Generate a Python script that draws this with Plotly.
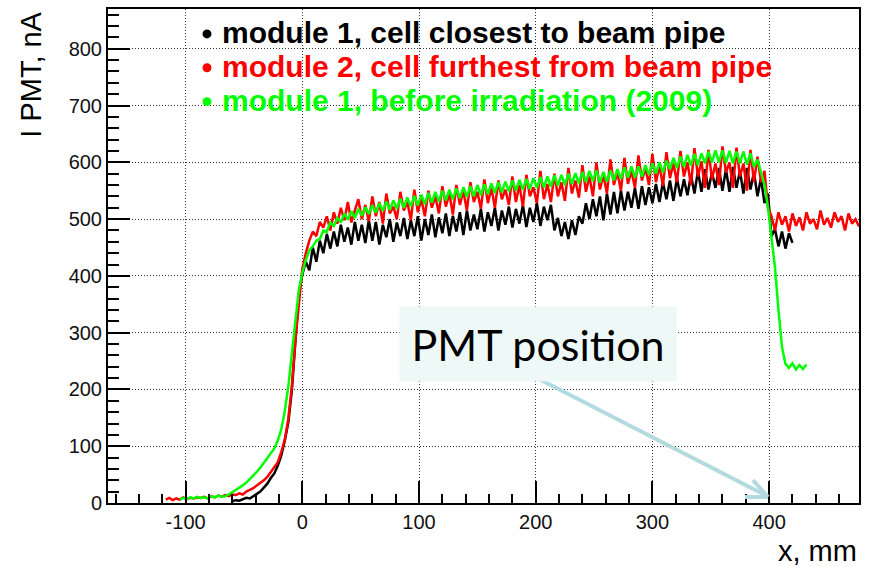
import plotly.graph_objects as go

# ---------------- data ----------------
black_x0, black_dx = -60, 3
black_vals = [
    3, 5, 4, 7, 9, 8, 12, 15, 20, 27,
    34, 44, 52, 66, 84, 110, 142, 198, 288, 368,
    402, 425, 410, 450, 425, 462, 440, 474, 448, 478,
    452, 490, 460, 485, 455, 495, 462, 490, 458, 498,
    462, 495, 455, 490, 468, 500, 460, 494, 470, 502,
    465, 498, 470, 505, 462, 500, 472, 508, 468, 503,
    475, 510, 470, 506, 478, 512, 472, 515, 480, 508,
    482, 518, 478, 512, 488, 520, 480, 515, 490, 522,
    485, 518, 492, 525, 486, 520, 495, 528, 488, 522,
    498, 525, 480, 502, 470, 495, 465, 498, 472, 505,
    492, 528, 500, 535, 505, 540, 498, 545, 508, 548,
    510, 550, 515, 548, 520, 555, 518, 558, 525, 556,
    528, 562, 530, 565, 535, 568, 532, 572, 540, 570,
    542, 578, 545, 585, 548, 588, 552, 582, 555, 590,
    550, 588, 548, 592, 555, 585, 545, 590, 552, 583,
    540, 572, 528, 545, 470, 482, 452, 478, 448, 475,
    458,
]

red_x0, red_dx = -117, 3
red_vals = [
    6, 9, 5, 8, 6, 10, 7, 9, 8, 10,
    9, 11, 8, 12, 10, 13, 11, 14, 12, 15,
    14, 17, 15, 20, 23, 26, 31, 35, 40, 46,
    54, 63, 72, 90, 112, 148, 205, 285, 350, 412,
    440, 462, 478, 470, 495, 485, 505, 480, 512, 492,
    520, 498, 530, 494, 515, 535, 500, 525, 496, 540,
    505, 530, 492, 545, 510, 522, 500, 548, 515, 530,
    498, 552, 512, 535, 505, 550, 520, 540, 510, 558,
    522, 545, 508, 560, 525, 550, 515, 565, 530, 548,
    518, 570, 528, 555, 520, 568, 535, 552, 525, 575,
    530, 560, 522, 578, 540, 556, 528, 585, 535, 562,
    530, 580, 540, 565, 532, 590, 545, 568, 538, 595,
    548, 575, 540, 600, 552, 578, 545, 605, 560, 582,
    550, 608, 562, 585, 555, 612, 568, 590, 560, 615,
    565, 595, 558, 618, 572, 598, 565, 620, 575, 600,
    560, 625, 575, 602, 555, 622, 570, 598, 560, 628,
    582, 600, 555, 626, 575, 598, 550, 622, 565, 610,
    565, 585, 520, 505, 480, 512, 490, 505, 478, 510,
    488, 503, 480, 512, 492, 500, 482, 515, 490, 502,
    485, 512, 495, 505, 480, 510, 492, 500, 487,
]

green_x0, green_dx = -105, 3
green_vals = [
    6, 9, 7, 10, 8, 11, 9, 10, 8, 12,
    10, 13, 11, 12, 15, 19, 22, 27, 31, 36,
    42, 48, 55, 62, 70, 78, 86, 96, 110, 130,
    162, 205, 262, 325, 375, 405, 428, 445, 452, 462,
    465, 480, 478, 494, 488, 502, 494, 510, 499, 514,
    502, 518, 506, 521, 509, 525, 511, 528, 514, 531,
    516, 533, 518, 536, 520, 538, 522, 541, 524, 543,
    526, 546, 529, 548, 531, 550, 533, 552, 535, 554,
    537, 556, 539, 558, 540, 560, 542, 561, 544, 563,
    546, 565, 547, 566, 549, 568, 550, 569, 552, 571,
    553, 572, 555, 574, 556, 575, 557, 577, 559, 578,
    560, 580, 562, 581, 563, 583, 565, 585, 567, 586,
    564, 583, 566, 586, 568, 588, 571, 591, 573, 593,
    573, 593, 575, 595, 578, 598, 580, 600, 582, 603,
    588, 608, 590, 610, 592, 613, 594, 615, 595, 616,
    598, 619, 600, 621, 600, 621, 599, 620, 598, 619,
    598, 619, 596, 616, 592, 605, 582, 560, 520, 470,
    415, 340, 275, 245, 238, 246, 235, 243, 236, 244,
]

legend_labels = [
    "module 1, cell closest to beam pipe",
    "module 2, cell furthest from beam pipe",
    "module 1, before irradiation (2009)",
]
colors = ["#000000", "#ff0000", "#00ff00"]

x_range = [-166.5, 477]
y_range = [0, 870]
x_ticks = [-100, 0, 100, 200, 300, 400]
x_ticktext = ["-100", "0", "100", "200", "300", "400"]
y_ticks = [0, 100, 200, 300, 400, 500, 600, 700, 800]


def xs(x0, dx, vals):
    return [x0 + dx * i for i in range(len(vals))]


# ---------------- figure ----------------
W, H = 871, 567
L, R, T, B = 108, 859, 7, 503


def px(x):
    return (x - L) / (R - L)


def py(y):
    return (B - y) / (B - T)


fig = go.Figure()
series = [
    (black_x0, black_dx, black_vals),
    (red_x0, red_dx, red_vals),
    (green_x0, green_dx, green_vals),
]
widths = [2.5, 2.5, 2.5]
for (x0, dx, vals), c, name, w in zip(series, colors, legend_labels, widths):
    fig.add_trace(go.Scatter(
        x=xs(x0, dx, vals), y=vals, mode="lines", name=name,
        line=dict(color=c, width=w), showlegend=False,
    ))

tickfont = dict(family="Liberation Sans, Arial", size=20, color="#111")
fig.update_xaxes(
    range=x_range, tickvals=x_ticks, ticktext=x_ticktext, ticks="inside",
    ticklen=22, tickwidth=1.5,
    tickcolor="black", showline=True, linecolor="black", linewidth=2, mirror=True,
    showgrid=True, gridcolor="#333", gridwidth=1, griddash="1px,2px",
    zeroline=False, tickfont=tickfont,
    minor=dict(ticks="inside", ticklen=9, dtick=20, tick0=0, tickcolor="black",
               tickwidth=1.5, showgrid=False),
)
fig.update_yaxes(
    range=y_range, tickvals=y_ticks, ticks="inside", ticklen=22, tickwidth=1.5,
    tickcolor="black", showline=True, linecolor="black", linewidth=2, mirror=True,
    showgrid=True, gridcolor="#333", gridwidth=1, griddash="1px,2px",
    zeroline=False, tickfont=tickfont,
    minor=dict(ticks="inside", ticklen=11, dtick=20, tick0=0, tickcolor="black",
               tickwidth=1.5, showgrid=False),
)

annotations = []
shapes = []
# legend
for i, (lab, c) in enumerate(zip(legend_labels, colors)):
    yc = 31 + 34 * i
    annotations.append(dict(
        xref="paper", yref="paper", x=px(220), y=py(yc), xanchor="left",
        yanchor="middle", text="<b>" + lab + "</b>", showarrow=False,
        font=dict(family="Liberation Sans, Arial", size=30, color=c),
    ))
    shapes.append(dict(
        type="circle", xref="paper", yref="paper",
        x0=px(202.5), x1=px(211.5), y0=py(yc + 5.5), y1=py(yc - 3.5),
        fillcolor=c, line=dict(width=0),
    ))

# axis titles
annotations.append(dict(
    xref="paper", yref="paper", x=px(31), y=py(73), xanchor="center",
    yanchor="middle", text="I PMT, nA", textangle=-90, showarrow=False,
    font=dict(family="Liberation Sans, Arial", size=29, color="black"),
))
annotations.append(dict(
    xref="paper", yref="paper", x=px(859), y=py(551), xanchor="right",
    yanchor="middle", text="x, mm", showarrow=False,
    font=dict(family="Liberation Sans, Arial", size=29, color="black"),
))

# PMT position callout
annotations.append(dict(
    xref="paper", yref="paper", x=px(538), y=py(343), xanchor="center",
    yanchor="middle", text="PMT position", showarrow=False,
    width=276, height=74, bgcolor="#eef8f7", borderpad=0,
    font=dict(family="Lato, Carlito, sans-serif", size=43, color="black"),
))
arrow_col = "#b3dbdf"
for (xa, ya, xb, yb) in [(538, 378, 767, 496), (768, 497, 753, 480), (768, 497, 745, 497)]:
    shapes.append(dict(
        type="line", xref="paper", yref="paper",
        x0=px(xa), y0=py(ya), x1=px(xb), y1=py(yb),
        line=dict(color=arrow_col, width=4),
    ))

fig.update_layout(
    width=W, height=H, margin=dict(l=L, r=W - R, t=T, b=H - B),
    paper_bgcolor="white", plot_bgcolor="white",
    annotations=annotations, shapes=shapes, showlegend=False,
)
fig.write_html("out.html")
